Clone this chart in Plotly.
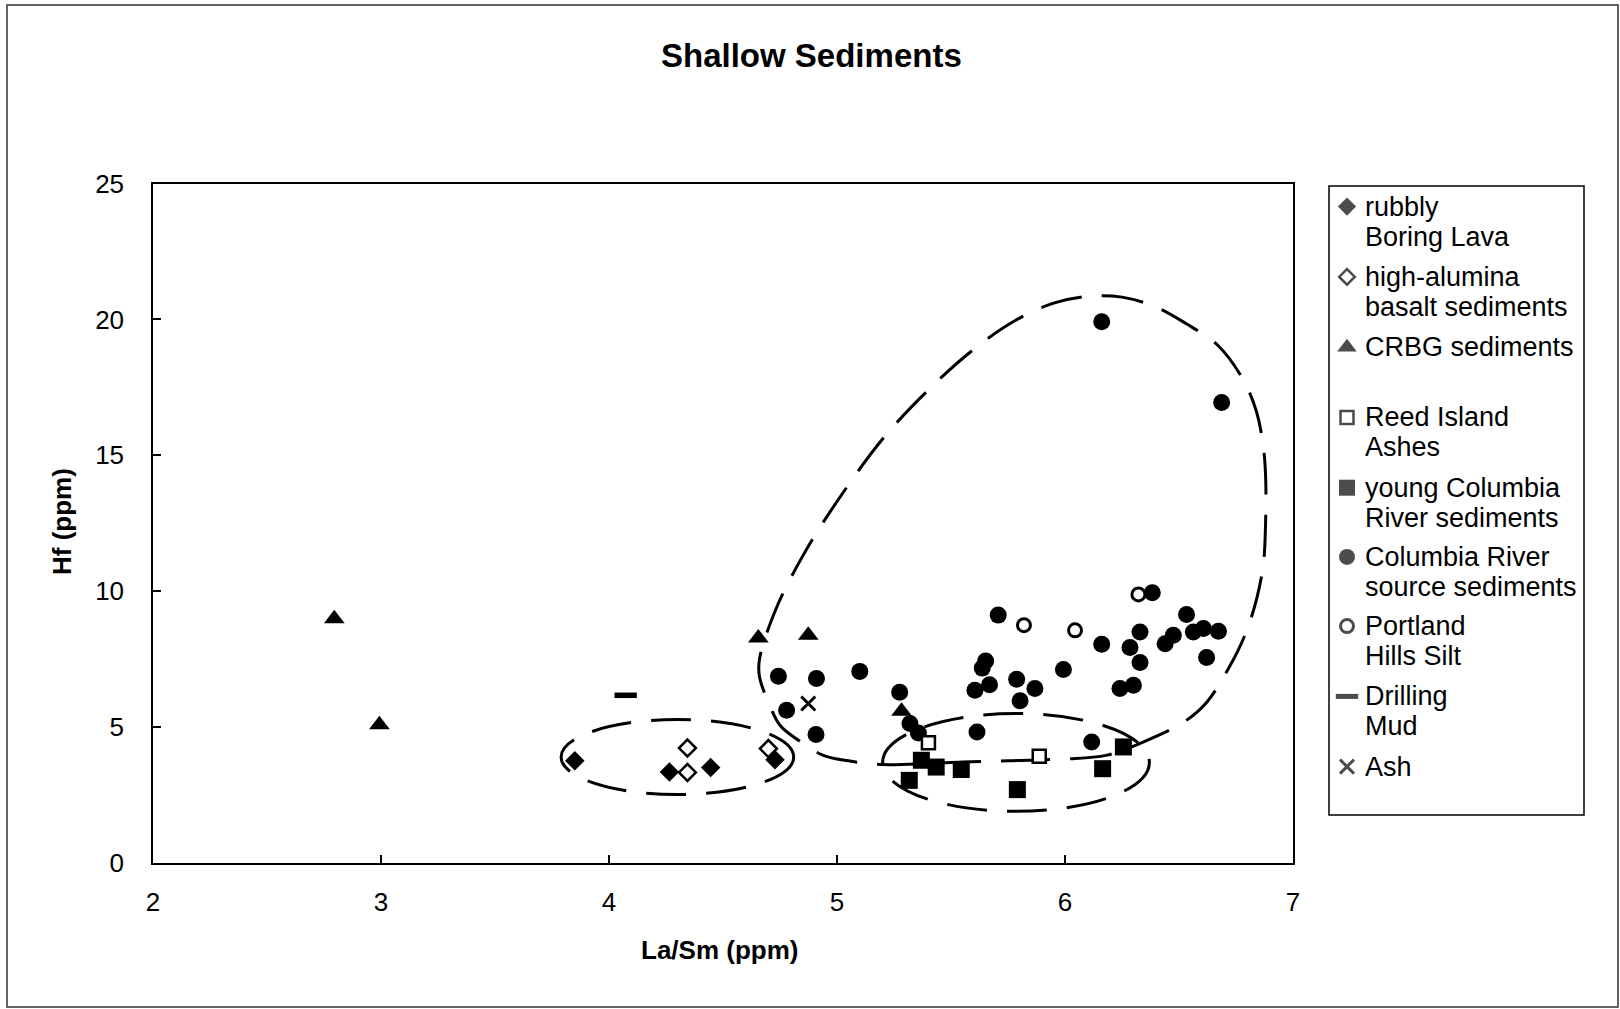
import plotly.graph_objects as go

W, H = 1620, 1009
FONT = "Liberation Sans, Arial, Helvetica, sans-serif"

# ---------------- data: La/Sm (x) vs Hf (y), ppm ----------------
rubbly_x = [3.85, 4.265, 4.446, 4.728]
rubbly_y = [3.76, 3.35, 3.51, 3.80]

high_alumina_x = [4.344, 4.344, 4.699]
high_alumina_y = [4.23, 3.33, 4.21]

crbg_x = [2.795, 2.993, 4.655, 4.874, 5.283]
crbg_y = [8.99, 5.09, 8.28, 8.38, 5.58]

reed_x = [5.401, 5.887]
reed_y = [4.42, 3.93]

young_cr_x = [5.317, 5.370, 5.435, 5.545, 5.791, 6.165, 6.256]
young_cr_y = [3.04, 3.78, 3.53, 3.44, 2.70, 3.47, 4.27]

cr_source_x = [6.161, 6.687, 5.707, 6.383, 6.533, 6.329, 6.161, 6.475, 6.439,
               6.563, 6.607, 6.673, 6.285, 6.329, 6.621, 6.300, 6.241, 5.993,
               5.652, 5.637, 5.669, 5.605, 5.788, 5.868, 5.803, 5.614, 6.117,
               5.275, 5.320, 5.357, 4.743, 4.910, 5.100, 4.779, 4.908]
cr_source_y = [19.91, 16.94, 9.12, 9.94, 9.14, 8.50, 8.05, 8.38, 8.07,
               8.50, 8.63, 8.53, 7.93, 7.38, 7.56, 6.54, 6.42, 7.12,
               7.43, 7.17, 6.56, 6.36, 6.76, 6.42, 5.97, 4.82, 4.45,
               6.28, 5.13, 4.78, 6.87, 6.79, 7.05, 5.62, 4.73]

portland_x = [5.820, 6.044, 6.322]
portland_y = [8.75, 8.56, 9.88]

mud_x = [4.073]
mud_y = [6.17]

ash_x = [4.874]
ash_y = [5.87]

# hand-drawn group outlines (data units)
loop_x = [5.55, 5.75, 6.00, 6.18, 6.34, 6.52, 6.62, 6.72, 6.79, 6.84, 6.87, 6.88,
          6.88, 6.87, 6.84, 6.78, 6.67, 6.53, 6.40, 6.25, 6.10, 5.95, 5.78, 5.60,
          5.40, 5.20, 5.00, 4.85, 4.73, 4.66, 4.66, 4.70, 4.75, 4.82, 4.94, 5.05,
          5.20, 5.40, 5.55]
loop_y = [3.72, 3.76, 3.83, 3.96, 4.44, 5.18, 5.90, 7.20, 8.40, 9.70, 11.0, 12.6,
          14.2, 15.3, 16.6, 17.8, 19.05, 19.85, 20.45, 20.82, 20.85, 20.6, 19.95, 18.9,
          17.4, 15.6, 13.3, 11.3, 9.3, 7.5, 6.85, 5.9, 5.07, 4.58, 3.96, 3.76,
          3.62, 3.66, 3.72]
left_ellipse = (3.79, 2.52, 4.81, 5.28)
lower_ellipse = (5.20, 1.90, 6.37, 5.50)

legend_entries = [
    ("diamond", "black", ["rubbly", "Boring Lava"]),
    ("diamond", "white", ["high-alumina", "basalt sediments"]),
    ("triangle-up", "black", ["CRBG sediments"]),
    ("square", "white", ["Reed Island", "Ashes"]),
    ("square", "black", ["young Columbia", "River sediments"]),
    ("circle", "black", ["Columbia River", "source sediments"]),
    ("circle", "white", ["Portland", "Hills Silt"]),
    ("line-ew-open", "black", ["Drilling", "Mud"]),
    ("x-thin-open", "black", ["Ash"]),
]
legend_line_y = [[206.6, 236.6], [276.9, 306.9], [347.2], [417.4, 447.4],
                 [487.7, 517.6], [556.9, 586.9], [626.1, 656.1], [696.4, 726.3],
                 [766.6]]
legend_marker_size = [14, 12, 17, 13, 16, 16, 13, 16, 14]
legend_marker_lw = [0, 2.5, 0, 2.5, 0, 0, 3, 5, 3]


def px(x):
    return x / W


def py(y):
    return 1 - y / H


fig = go.Figure()

# group outline (large loop)
fig.add_trace(go.Scatter(
    x=loop_x, y=loop_y, mode="lines",
    line=dict(color="black", width=3, dash="42px,20px", shape="spline", smoothing=1.0),
    hoverinfo="skip"))


def add_pts(x, y, symbol, size, fill, lw=0, lc="black"):
    fig.add_trace(go.Scatter(
        x=x, y=y, mode="markers",
        marker=dict(symbol=symbol, size=size, color=fill,
                    line=dict(color=lc, width=lw))))


add_pts(young_cr_x, young_cr_y, "square", 17, "black")
add_pts(rubbly_x, rubbly_y, "diamond", 15, "black")
add_pts(cr_source_x, cr_source_y, "circle", 17, "black")
add_pts(crbg_x, crbg_y, "triangle-up", 18, "black")
add_pts(high_alumina_x, high_alumina_y, "diamond", 13, "white", 2.5)
add_pts(reed_x, reed_y, "square", 13, "white", 2.5)
add_pts(portland_x, portland_y, "circle", 13, "white", 3)
add_pts(ash_x, ash_y, "x-thin-open", 14, "black", 3)
add_pts(mud_x, mud_y, "line-ew-open", 16, "black", 5.5)

# legend markers on a pixel-scaled helper axis
fig.add_trace(go.Scatter(
    x=[1347] * len(legend_entries), y=[ys[0] for ys in legend_line_y],
    mode="markers", xaxis="x2", yaxis="y2",
    marker=dict(symbol=[e[0] for e in legend_entries], size=legend_marker_size,
                color=[e[1] for e in legend_entries],
                line=dict(color="black", width=legend_marker_lw)),
    hoverinfo="skip"))

annotations = []
for (_, _, lines), ys in zip(legend_entries, legend_line_y):
    for txt, yy in zip(lines, ys):
        annotations.append(dict(
            x=1363, y=yy, xref="x2", yref="y2", text=txt, showarrow=False,
            xanchor="left", yanchor="middle",
            font=dict(family=FONT, size=27, color="black")))

annotations += [
    dict(x=px(811), y=py(55), xref="paper", yref="paper", text="<b>Shallow Sediments</b>",
         showarrow=False, xanchor="center", yanchor="middle",
         font=dict(family=FONT, size=33, color="black")),
    dict(x=px(719), y=py(950), xref="paper", yref="paper", text="<b>La/Sm (ppm)</b>",
         showarrow=False, xanchor="center", yanchor="middle",
         font=dict(family=FONT, size=26, color="black")),
    dict(x=px(62), y=py(522), xref="paper", yref="paper", text="<b>Hf (ppm)</b>",
         showarrow=False, xanchor="center", yanchor="middle", textangle=-90,
         font=dict(family=FONT, size=26, color="black")),
]

shapes = [
    dict(type="circle", xref="x", yref="y",
         x0=left_ellipse[0], y0=left_ellipse[1], x1=left_ellipse[2], y1=left_ellipse[3],
         line=dict(color="black", width=3, dash="40px,20px"), layer="below"),
    dict(type="circle", xref="x", yref="y",
         x0=lower_ellipse[0], y0=lower_ellipse[1], x1=lower_ellipse[2], y1=lower_ellipse[3],
         line=dict(color="black", width=3, dash="40px,20px"), layer="below"),
    # legend frame
    dict(type="rect", xref="paper", yref="paper",
         x0=px(1329), y0=py(815), x1=px(1584), y1=py(186),
         line=dict(color="black", width=1.5)),
    # outer frame
    dict(type="rect", xref="paper", yref="paper",
         x0=px(7), y0=py(1007), x1=px(1618), y1=py(5),
         line=dict(color="#333333", width=1.5)),
]

axis_common = dict(showgrid=False, zeroline=False, showline=True, linecolor="black",
                   linewidth=1.5, mirror=True, ticks="inside", ticklen=8,
                   tickwidth=1.5, tickcolor="black", automargin=False,
                   tickfont=dict(family=FONT, size=26, color="black"))

fig.update_layout(
    template="none",
    width=W, height=H, autosize=False,
    margin=dict(l=0, r=0, t=0, b=0, pad=0, autoexpand=False),
    paper_bgcolor="white", plot_bgcolor="white",
    showlegend=False,
    xaxis=dict(domain=[px(153), px(1293)], range=[2, 7], dtick=1, tick0=2,
               ticklabelstandoff=15, **axis_common),
    yaxis=dict(domain=[py(863), py(183.5)], range=[0, 25], dtick=5, tick0=0,
               ticklabelstandoff=22, **axis_common),
    xaxis2=dict(domain=[px(1329), px(1584)], range=[1329, 1584], visible=False,
                anchor="y2", automargin=False),
    yaxis2=dict(domain=[py(815), py(186)], range=[815, 186], visible=False,
                anchor="x2", automargin=False),
    annotations=annotations,
    shapes=shapes,
)

# page body without default margin so the figure fills the window exactly
fig.write_html(
    "out.html",
    config={"responsive": False},
    post_script="document.body.style.margin='0';document.body.style.overflow='hidden';",
)
